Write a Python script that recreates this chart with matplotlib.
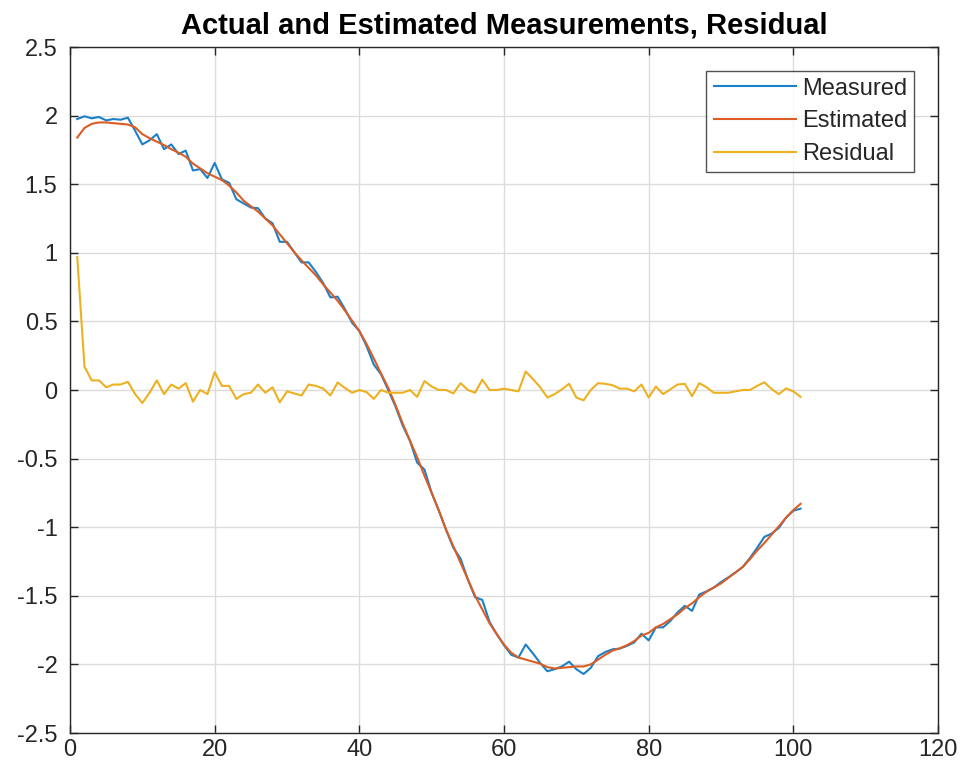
import numpy as np
import matplotlib
matplotlib.use("Agg")
import matplotlib.pyplot as plt

plt.rcParams['font.family'] = ['Liberation Sans', 'DejaVu Sans']

steps = list(range(1, 102))

measured = [
    1.975, 1.995, 1.98, 1.99, 1.965, 1.975, 1.97, 1.985, 1.89, 1.79,
    1.82, 1.865, 1.755, 1.79, 1.72, 1.745, 1.6, 1.61, 1.545, 1.655,
    1.535, 1.51, 1.39, 1.36, 1.33, 1.325, 1.25, 1.215, 1.08, 1.08,
    1.005, 0.93, 0.93, 0.86, 0.78, 0.675, 0.68, 0.59, 0.49, 0.43,
    0.32, 0.185, 0.115, 0.0, -0.12, -0.26, -0.37, -0.53, -0.58, -0.75,
    -0.88, -1.02, -1.15, -1.23, -1.38, -1.51, -1.53, -1.69, -1.78, -1.86,
    -1.93, -1.95, -1.855, -1.92, -1.99, -2.05, -2.035, -2.015, -1.98, -2.035,
    -2.07, -2.025, -1.94, -1.91, -1.89, -1.885, -1.865, -1.84, -1.776, -1.825,
    -1.73, -1.73, -1.683, -1.62, -1.573, -1.61, -1.49, -1.468, -1.44, -1.40,
    -1.366, -1.33, -1.29, -1.225, -1.15, -1.07, -1.047, -1.005, -0.93, -0.88,
    -0.865,
]

estimated = [
    1.84, 1.91, 1.94, 1.95, 1.95, 1.945, 1.94, 1.935, 1.915, 1.865,
    1.835, 1.81, 1.785, 1.755, 1.73, 1.70, 1.65, 1.615, 1.58, 1.555,
    1.53, 1.49, 1.44, 1.38, 1.34, 1.30, 1.25, 1.20, 1.135, 1.07,
    1.005, 0.945, 0.89, 0.835, 0.77, 0.71, 0.65, 0.58, 0.505, 0.43,
    0.335, 0.23, 0.12, 0.015, -0.11, -0.245, -0.37, -0.49, -0.625, -0.75,
    -0.88, -1.02, -1.14, -1.26, -1.38, -1.50, -1.60, -1.70, -1.78, -1.855,
    -1.915, -1.95, -1.965, -1.98, -1.995, -2.02, -2.03, -2.025, -2.02, -2.015,
    -2.015, -2.0, -1.965, -1.93, -1.90, -1.883, -1.86, -1.83, -1.79, -1.77,
    -1.73, -1.705, -1.67, -1.635, -1.59, -1.555, -1.51, -1.47, -1.44, -1.41,
    -1.37, -1.33, -1.29, -1.233, -1.17, -1.115, -1.054, -0.993, -0.93, -0.875,
    -0.83,
]

residual = [
    0.97, 0.17, 0.07, 0.07, 0.02, 0.04, 0.04, 0.06, -0.03, -0.095,
    -0.02, 0.07, -0.03, 0.04, 0.01, 0.05, -0.085, 0.0, -0.03, 0.13,
    0.03, 0.03, -0.065, -0.03, -0.02, 0.04, -0.02, 0.02, -0.09, -0.01,
    -0.025, -0.04, 0.04, 0.03, 0.01, -0.04, 0.055, 0.015, -0.02, 0.0,
    -0.015, -0.065, 0.0, -0.02, -0.02, -0.02, 0.0, -0.05, 0.065, 0.025,
    0.0, 0.0, -0.025, 0.05, 0.0, -0.02, 0.075, 0.0, 0.0, 0.01,
    0.0, -0.01, 0.135, 0.08, 0.02, -0.055, -0.03, 0.005, 0.045, -0.055,
    -0.075, 0.0, 0.05, 0.045, 0.035, 0.01, 0.01, -0.01, 0.04, -0.055,
    0.025, -0.03, 0.005, 0.04, 0.045, -0.045, 0.05, 0.02, -0.02, -0.02,
    -0.02, -0.01, 0.0, 0.0, 0.03, 0.056, 0.007, -0.03, 0.012, -0.01,
    -0.05,
]

series_names = ["Measured", "Estimated", "Residual"]
series_colors = ["#1a80c8", "#DC5D24", "#EDB120"]

x_ticks = [0, 20, 40, 60, 80, 100, 120]
y_ticks = [-2.5, -2, -1.5, -1, -0.5, 0, 0.5, 1, 1.5, 2, 2.5]
y_tick_labels = ["-2.5", "-2", "-1.5", "-1", "-0.5", "0", "0.5", "1", "1.5", "2", "2.5"]

fig = plt.figure(figsize=(9.62, 7.74), dpi=100)
ax = fig.add_axes([70 / 962, 1 - 733 / 774, (938 - 70) / 962, (733 - 47) / 774])

for data, name, col in zip([measured, estimated, residual], series_names, series_colors):
    ax.plot(steps, data, color=col, lw=1.5, label=name)

ax.set_xlim(0, 120)
ax.set_ylim(-2.5, 2.5)
ax.set_xticks(x_ticks)
ax.set_yticks(y_ticks)
ax.set_yticklabels(y_tick_labels)
ax.grid(True, color="#dcdcdc", lw=1.0)
ax.set_axisbelow(True)
ax.tick_params(direction="in", length=6, width=1, top=True, right=True,
               labelsize=17, colors="#262626")
ax.tick_params(axis="y", pad=9)
ax.tick_params(axis="x", pad=4)
for s in ax.spines.values():
    s.set_color("#262626")
    s.set_linewidth(1.0)

ax.set_title("Actual and Estimated Measurements, Residual", fontsize=21,
             fontweight="bold", color="#000000", pad=10)

leg = ax.legend(loc="upper right", fontsize=17, frameon=True, fancybox=False,
                edgecolor="#262626", handlelength=3.5, borderaxespad=1.0,
                labelspacing=0.45, handletextpad=0.25, borderpad=0.3)
leg.get_frame().set_linewidth(1.0)
for t in leg.get_texts():
    t.set_color("#262626")

fig.savefig("out.png", dpi=100)
